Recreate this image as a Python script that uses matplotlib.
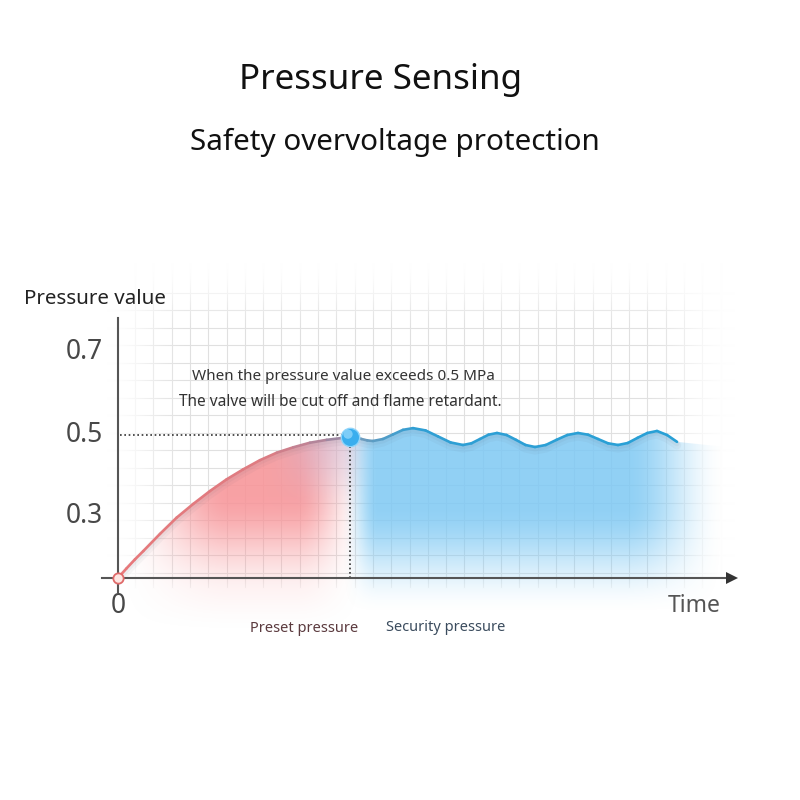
import numpy as np
import matplotlib
matplotlib.use("Agg")
import matplotlib.pyplot as plt
from matplotlib.collections import LineCollection
from matplotlib.path import Path
from matplotlib.patches import PathPatch
from matplotlib.colors import to_rgb

# ---------------- data ----------------
# rising "preset pressure" curve (time units, MPa)
rise_t = [0.0, 0.87, 1.7, 2.53, 4.2, 5.87, 7.53, 9.2, 10.87, 12.53, 14.2, 15.87, 17.53, 19.2, 20.87, 22.5, 23.2]
rise_p = [0.0, 0.034, 0.065, 0.094, 0.154, 0.211, 0.259, 0.304, 0.345, 0.380, 0.412, 0.438, 0.457, 0.473, 0.483, 0.490, 0.493]

# oscillating "security pressure" curve
wave_t = [23.2, 23.78, 24.35, 24.93, 25.5, 26.5, 27.5, 28.5, 29.5, 30.75, 32.0, 33.25,
          34.5, 35.35, 36.2, 37.05, 37.9, 38.85, 39.8, 40.75, 41.7, 42.78, 43.85, 44.93,
          46.0, 47.0, 48.0, 49.0, 50.0, 50.98, 51.95, 52.93, 53.9, 54.9, 55.9]
wave_p = [0.493, 0.491, 0.486, 0.481, 0.479, 0.486, 0.502, 0.518, 0.524, 0.516, 0.495, 0.474,
          0.465, 0.471, 0.486, 0.501, 0.507, 0.500, 0.483, 0.465, 0.458, 0.465, 0.483, 0.500,
          0.507, 0.501, 0.486, 0.471, 0.465, 0.472, 0.490, 0.507, 0.514, 0.500, 0.476]

threshold = 0.5
threshold_t = 23.2

y_tick_pos = [0.217, 0.5, 0.79]
y_tick_labels = ["0.3", "0.5", "0.7"]

title = "Pressure Sensing"
subtitle = "Safety overvoltage protection"
note_lines = ["When the pressure value exceeds 0.5 MPa",
              "The valve will be cut off and flame retardant."]
legend_labels = ["Preset pressure", "Security pressure"]

# ---------------- figure ----------------
plt.rcParams['font.family'] = ['Noto Sans', 'DejaVu Sans']
fig = plt.figure(figsize=(8, 8), dpi=100)
fig.patch.set_facecolor("white")

XMIN, XMAX = -3.8, 66.2
YMIN, YMAX = -0.252, 1.147
ax = fig.add_axes([0.1, 0.1875, 0.875, 0.5])
ax.set_xlim(XMIN, XMAX)
ax.set_ylim(YMIN, YMAX)
ax.axis("off")

# pixel helpers (for soft gradients only)
def to_px(t, p):
    return 118 + t * 10.0, 578 - p * 286.0

# ---------------- grid ----------------
gx = np.arange(1.7, 62, 1.83)
gy = np.arange(0.080 - 0.0612, 1.0, 0.0612)
for v in gx:
    ax.plot([v, v], [-0.03, 1.12], color="#dedede", lw=0.8, zorder=1)
for h in gy:
    ax.plot([-1.0, 62], [h, h], color="#dedede", lw=0.8, zorder=1)

# white vignette over grid
nx, ny = 700, 400
xs = np.linspace(XMIN, XMAX, nx)
ys = np.linspace(YMIN, YMAX, ny)
TT, PP = np.meshgrid(xs, ys)
PX, PY = to_px(TT, PP)

def ramp(v, a, b):
    s = np.clip((v - a) / (b - a), 0, 1)
    return s * s * (3 - 2 * s)

env = ramp(PX, 105, 190) * (1 - ramp(PX, 640, 735)) * ramp(PY, 262, 335) * (1 - ramp(PY, 565, 605))
vig = np.zeros((ny, nx, 4))
vig[..., :3] = 1.0
vig[..., 3] = 1 - env * 0.92
ax.imshow(vig, extent=[XMIN, XMAX, YMIN, YMAX], origin="lower", aspect="auto", zorder=2,
          interpolation="bilinear")

# ---------------- gradient fills ----------------
all_t = rise_t + wave_t[1:]
all_p = rise_p + wave_p[1:]
verts = [(XMIN, YMIN), (-0.5, -0.02), (0.0, 0.0)] + list(zip(all_t[1:], all_p[1:])) + \
        [(60.0, all_p[-1] - 0.015), (66.2, all_p[-1] - 0.04), (66.2, YMIN)]
codes = [Path.MOVETO] + [Path.LINETO] * (len(verts) - 1)
clip = PathPatch(Path(verts + [verts[0]], codes + [Path.CLOSEPOLY]), transform=ax.transData,
                 facecolor="none", edgecolor="none")
ax.add_patch(clip)

def layer(rgb, alpha, z=3):
    img = np.zeros((ny, nx, 4))
    img[..., :3] = np.array(rgb) / 255
    img[..., 3] = np.clip(alpha, 0, 1)
    im = ax.imshow(img, extent=[XMIN, XMAX, YMIN, YMAX], origin="lower", aspect="auto",
                   zorder=z, interpolation="bilinear")
    im.set_clip_path(clip)

# red region
hr = ramp(PX, 115, 230) * (1 - ramp(PX, 295, 365))
vr = (1 - ramp(PY, 495, 590)) * 0.8 + 0.2 * (1 - ramp(PY, 560, 635))
layer([247, 148, 152], hr * vr * 0.88)

# lavender transition right under the top of the curve
hm = ramp(PX, 260, 325) * (1 - ramp(PX, 345, 380))
vm = 1 - ramp(PY, 440, 520)
layer([200, 180, 210], hm * vm * 0.45)

# blue region
hb = ramp(PX, 342, 378) * (1 - ramp(PX, 625, 725))
vb = 1 - ramp(PY, 505, 615)
layer([125, 200, 243], hb * vb * 0.85)

# soft shadow under the curve
for lw_, a_, off in [(6, 0.05, 0.012), (3.5, 0.06, 0.007)]:
    ax.plot(all_t, np.array(all_p) - off, color="#606070", lw=lw_, alpha=a_, zorder=4,
            solid_capstyle="round", solid_joinstyle="round")

# ---------------- axes lines ----------------
ax.plot([-1.6, 61.5], [0, 0], color="#555555", lw=1.5, zorder=6)
ax.plot([61.4], [0], marker=">", markersize=9, color="#333333", zorder=6, markeredgewidth=0)
ax.plot([0, 0], [-0.05, 0.909], color="#555555", lw=1.5, zorder=6)

# dotted guide lines
ax.plot([0.2, threshold_t], [threshold, threshold], color="#333333", lw=1.2,
        linestyle=(0, (1, 1.6)), zorder=5)
ax.plot([threshold_t, threshold_t], [0, threshold], color="#333333", lw=1.2,
        linestyle=(0, (1, 1.6)), zorder=5)

# ---------------- curves with colour gradient ----------------
def grad_line(t, p, stops, z=7):
    pts = np.column_stack([t, p])
    segs = np.stack([pts[:-1], pts[1:]], axis=1)
    f = np.linspace(0, 1, len(segs))
    pos = [s[0] for s in stops]
    rgb = np.array([to_rgb(s[1]) for s in stops])
    cols = np.column_stack([np.interp(f, pos, rgb[:, k]) for k in range(3)])
    lc = LineCollection(segs, colors=cols, linewidths=1.9, zorder=z, capstyle="round",
                        joinstyle="round")
    ax.add_collection(lc)

grad_line(rise_t, rise_p, [(0, "#e8787a"), (0.65, "#de7c82"), (0.85, "#b88498"), (1, "#8a89a8")])
n1 = 10
grad_line(wave_t[:n1], wave_p[:n1], [(0, "#7f9bb8"), (0.5, "#5a9cc4"), (1, "#2f9fd4")])
grad_line(wave_t[n1 - 1:], wave_p[n1 - 1:], [(0, "#2f9fd4"), (1, "#28a0d6")])

# markers
ax.scatter([rise_t[0]], [rise_p[0]], s=55, facecolor="#fde6e2", edgecolor="#e06a6a",
           linewidth=1.3, zorder=9)
ax.scatter([threshold_t], [rise_p[-1]], s=175, facecolor="#3aaeee", edgecolor="#8fd4fa",
           linewidth=1.0, zorder=9)
ax.scatter([threshold_t - 0.2], [rise_p[-1] + 0.01], s=45, facecolor="#8fd6fb",
           edgecolor="none", alpha=0.8, zorder=10)

# ---------------- text ----------------
for pos, lab in zip(y_tick_pos, y_tick_labels):
    ax.text(-1.5, pos, lab, ha="right", va="center", fontsize=19, color="#484848", zorder=11)
ax.text(0, -0.098, "0", ha="center", va="center", fontsize=19, color="#484848", zorder=11)
ax.text(-2.3, 0.976, "Pressure value", ha="center", va="center", fontsize=14.8, color="#222222", zorder=11)
ax.text(57.6, -0.098, "Time", ha="center", va="center", fontsize=16.5, color="#555555", zorder=11)

ax.text(22.5, 0.706, note_lines[0], ha="center", va="center", fontsize=11, color="#333333", zorder=11)
ax.text(22.2, 0.615, note_lines[1], ha="center", va="center", fontsize=11.1, color="#333333", zorder=11)

ax.text(18.6, -0.178, legend_labels[0], ha="center", va="center", fontsize=10.5, color="#5b3a3e", zorder=11)
ax.text(32.8, -0.175, legend_labels[1], ha="center", va="center", fontsize=10.5, color="#3b4c5e", zorder=11)

fig.text(381 / 800, 1 - 80 / 800, title, ha="center", va="center", fontsize=25.2, color="#111111")
fig.text(395 / 800, 1 - 142 / 800, subtitle, ha="center", va="center", fontsize=21.3, color="#111111")

fig.savefig("out.png", dpi=100, facecolor="white")
